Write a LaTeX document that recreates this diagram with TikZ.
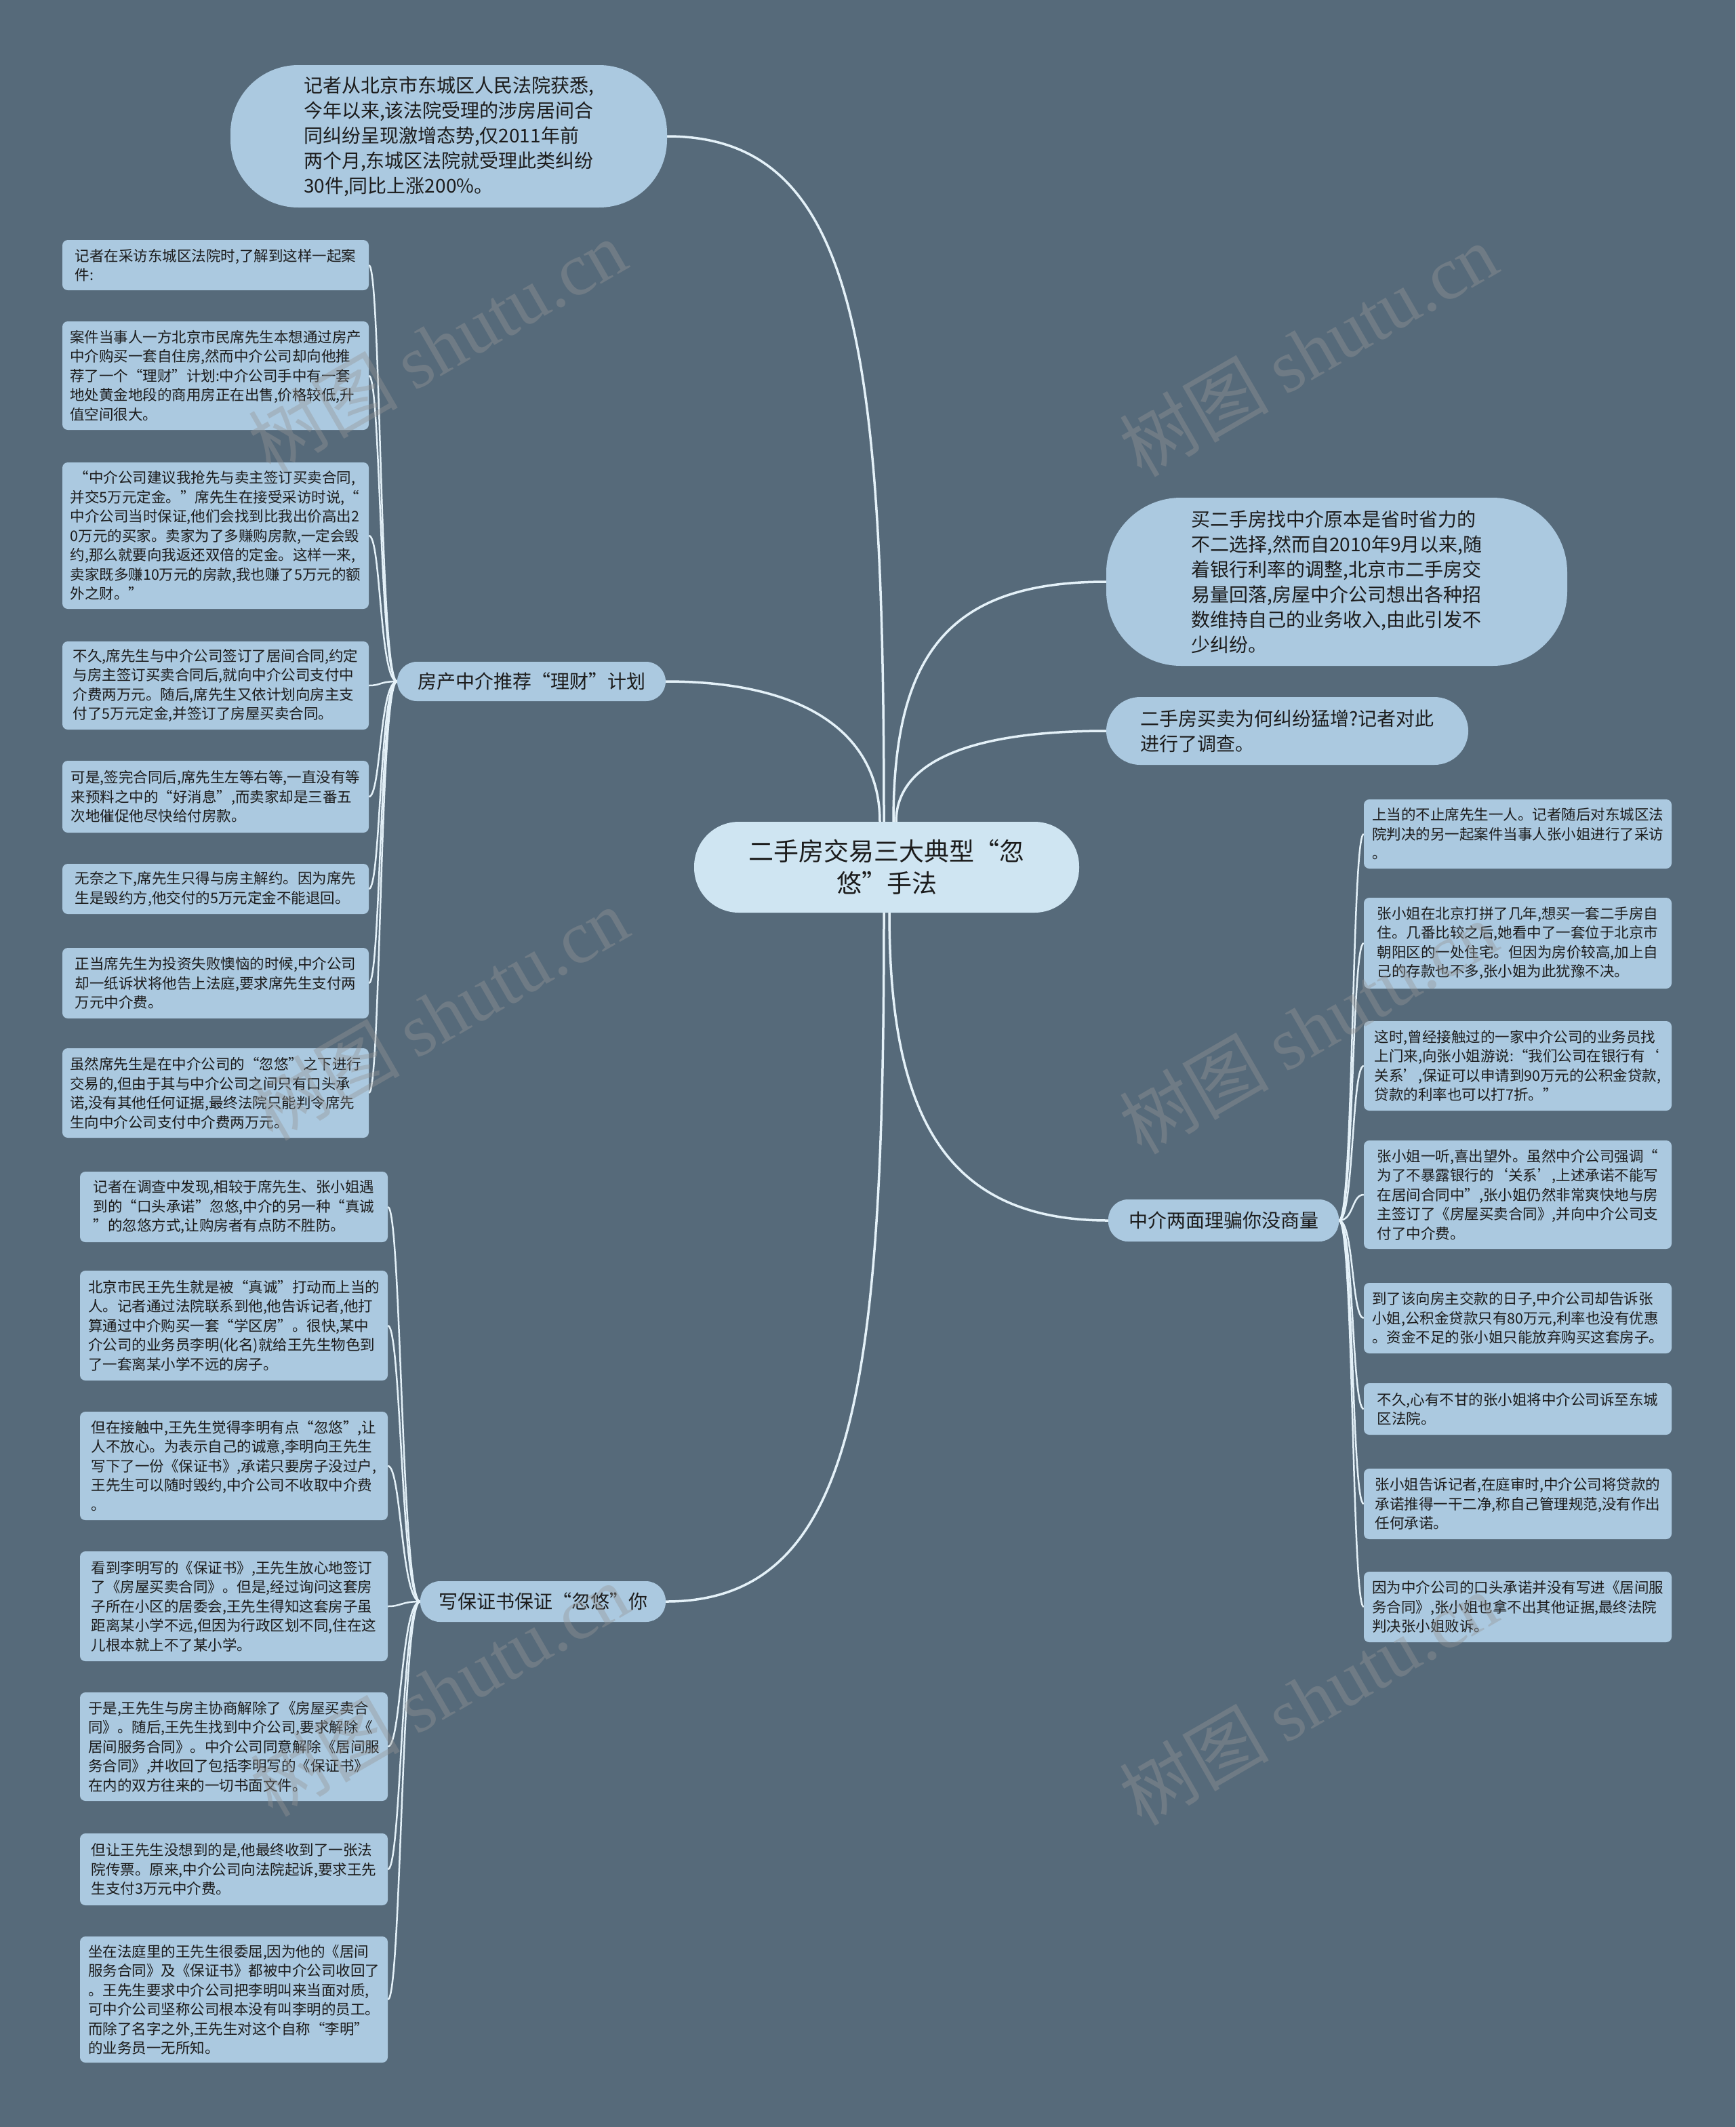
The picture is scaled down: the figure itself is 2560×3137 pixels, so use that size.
\documentclass[tikz,border=0pt]{standalone}
\usepackage{fontspec}
\setmainfont{Noto Sans CJK SC}
\newfontfamily\wmlatin{Liberation Serif}
\usetikzlibrary{calc}
\definecolor{bgc}{RGB}{86,106,122}
\definecolor{leafc}{RGB}{171,201,224}
\definecolor{rootc}{RGB}{207,229,242}
\definecolor{linec}{RGB}{228,241,248}
\definecolor{txtc}{RGB}{28,28,28}
\definecolor{wmc}{RGB}{150,150,150}
\pgfdeclarelayer{bgl}
\pgfdeclarelayer{lnl}
\pgfdeclarelayer{wml}
\pgfsetlayers{bgl,lnl,main,wml}
\begin{document}
\begin{tikzpicture}[x=1pt,y=-1pt,
  leaf/.style={fill=leafc, rounded corners=8pt, align=left, inner sep=0pt, text=txtc,
    font=\fontsize{21.5}{28.5}\selectfont},
  lleaf/.style={leaf, minimum width=452pt},
  mleaf/.style={leaf, minimum width=454pt},
  rleaf/.style={leaf, minimum width=454pt},
  branch/.style={fill=leafc, rounded corners=29pt, inner sep=0pt, text=txtc,
    font=\fontsize{28}{34}\selectfont},
  bubble/.style={fill=leafc, inner sep=0pt, align=left, text=txtc,
    font=\fontsize{28}{37}\selectfont},
  rootnode/.style={fill=rootc, rounded corners=66pt, inner sep=0pt, align=center, text=txtc,
    font=\fontsize{37}{47}\selectfont, minimum width=568pt, minimum height=134pt},
  mainline/.style={draw=linec, line width=3.5pt},
  leafline/.style={draw=linec, line width=2.5pt},
  wm/.style={text=wmc, text opacity=0.4, rotate=30, inner sep=0pt,
    font=\fontsize{110}{110}\selectfont}
]
\begin{pgfonlayer}{bgl}
\fill[bgc] (0,0) rectangle (2560,3137);
\end{pgfonlayer}
\useasboundingbox (0,0) rectangle (2560,3137);

% root
\node[rootnode] (c) at (1308,1279) {二手房交易三大典型“忽\\悠”手法};

% top bubble and right bubbles
\node[bubble, rounded corners=100pt, minimum width=644pt, minimum height=210pt] (t) at (662,201)
{记者从北京市东城区人民法院获悉,\\今年以来,该法院受理的涉房居间合\\同纠纷呈现激增态势,仅2011年前\\两个月,东城区法院就受理此类纠纷\\30件,同比上涨200\%。};
\node[bubble, rounded corners=110pt, minimum width=680pt, minimum height=248pt] (rb1) at (1972,858)
{买二手房找中介原本是省时省力的\\不二选择,然而自2010年9月以来,随\\着银行利率的调整,北京市二手房交\\易量回落,房屋中介公司想出各种招\\数维持自己的业务收入,由此引发不\\少纠纷。};
\node[bubble, rounded corners=50pt, minimum width=534pt, minimum height=100pt] (rb2) at (1899,1078)
{二手房买卖为何纠纷猛增?记者对此\\进行了调查。};

% branches
\node[branch, minimum width=396pt, minimum height=58pt] (b1) at (784,1005) {房产中介推荐“理财”计划};
\node[branch, minimum width=362pt, minimum height=60pt] (b2) at (801,2362) {写保证书保证“忽悠”你};
\node[branch, minimum width=340pt, minimum height=62pt] (b3) at (1805,1800) {中介两面理骗你没商量};

% left leaves, branch 1
\node[lleaf, minimum height=74pt] (l1) at (318,391) {记者在采访东城区法院时,了解到这样一起案\\件:};
\node[lleaf, minimum height=160pt] (l2) at (318,554) {案件当事人一方北京市民席先生本想通过房产\\中介购买一套自住房,然而中介公司却向他推\\荐了一个“理财”计划:中介公司手中有一套\\地处黄金地段的商用房正在出售,价格较低,升\\值空间很大。};
\node[lleaf, minimum height=216pt] (l3) at (318,790) {\kern6pt“中介公司建议我抢先与卖主签订买卖合同,\\并交5万元定金。”席先生在接受采访时说,“\\中介公司当时保证,他们会找到比我出价高出2\\0万元的买家。卖家为了多赚购房款,一定会毁\\约,那么就要向我返还双倍的定金。这样一来,\\卖家既多赚10万元的房款,我也赚了5万元的额\\外之财。”};
\node[lleaf, minimum height=130pt] (l4) at (318,1011) {不久,席先生与中介公司签订了居间合同,约定\\与房主签订买卖合同后,就向中介公司支付中\\介费两万元。随后,席先生又依计划向房主支\\付了5万元定金,并签订了房屋买卖合同。};
\node[lleaf, minimum height=106pt] (l5) at (318,1175) {可是,签完合同后,席先生左等右等,一直没有等\\来预料之中的“好消息”,而卖家却是三番五\\次地催促他尽快给付房款。};
\node[lleaf, minimum height=74pt] (l6) at (318,1311) {无奈之下,席先生只得与房主解约。因为席先\\生是毁约方,他交付的5万元定金不能退回。};
\node[lleaf, minimum height=104pt] (l7) at (318,1450) {正当席先生为投资失败懊恼的时候,中介公司\\却一纸诉状将他告上法庭,要求席先生支付两\\万元中介费。};
\node[lleaf, minimum height=132pt] (l8) at (318,1612) {虽然席先生是在中介公司的“忽悠”之下进行\\交易的,但由于其与中介公司之间只有口头承\\诺,没有其他任何证据,最终法院只能判令席先\\生向中介公司支付中介费两万元。};

% left leaves, branch 2
\node[mleaf, minimum height=104pt] (m1) at (345,1780) {记者在调查中发现,相较于席先生、张小姐遇\\到的“口头承诺”忽悠,中介的另一种“真诚\\”的忽悠方式,让购房者有点防不胜防。};
\node[mleaf, minimum height=162pt] (m2) at (345,1955) {北京市民王先生就是被“真诚”打动而上当的\\人。记者通过法院联系到他,他告诉记者,他打\\算通过中介购买一套“学区房”。很快,某中\\介公司的业务员李明(化名)就给王先生物色到\\了一套离某小学不远的房子。};
\node[mleaf, minimum height=160pt] (m3) at (345,2162) {但在接触中,王先生觉得李明有点“忽悠”,让\\人不放心。为表示自己的诚意,李明向王先生\\写下了一份《保证书》,承诺只要房子没过户,\\王先生可以随时毁约,中介公司不收取中介费\\。};
\node[mleaf, minimum height=162pt] (m4) at (345,2369) {看到李明写的《保证书》,王先生放心地签订\\了《房屋买卖合同》。但是,经过询问这套房\\子所在小区的居委会,王先生得知这套房子虽\\距离某小学不远,但因为行政区划不同,住在这\\儿根本就上不了某小学。};
\node[mleaf, minimum height=160pt] (m5) at (345,2576) {于是,王先生与房主协商解除了《房屋买卖合\\同》。随后,王先生找到中介公司,要求解除《\\居间服务合同》。中介公司同意解除《居间服\\务合同》,并收回了包括李明写的《保证书》\\在内的双方往来的一切书面文件。};
\node[mleaf, minimum height=106pt] (m6) at (345,2757) {但让王先生没想到的是,他最终收到了一张法\\院传票。原来,中介公司向法院起诉,要求王先\\生支付3万元中介费。};
\node[mleaf, minimum height=186pt] (m7) at (345,2949) {坐在法庭里的王先生很委屈,因为他的《居间\\服务合同》及《保证书》都被中介公司收回了\\。王先生要求中介公司把李明叫来当面对质,\\可中介公司坚称公司根本没有叫李明的员工。\\而除了名字之外,王先生对这个自称“李明”\\的业务员一无所知。};

% right leaves
\node[rleaf, minimum height=102pt] (r1) at (2239,1230) {上当的不止席先生一人。记者随后对东城区法\\院判决的另一起案件当事人张小姐进行了采访\\。};
\node[rleaf, minimum height=134pt] (r2) at (2239,1391) {张小姐在北京打拼了几年,想买一套二手房自\\住。几番比较之后,她看中了一套位于北京市\\朝阳区的一处住宅。但因为房价较高,加上自\\己的存款也不多,张小姐为此犹豫不决。};
\node[rleaf, minimum height=132pt] (r3) at (2239,1572) {这时,曾经接触过的一家中介公司的业务员找\\上门来,向张小姐游说:“我们公司在银行有‘\\关系’,保证可以申请到90万元的公积金贷款,\\贷款的利率也可以打7折。”};
\node[rleaf, minimum height=160pt] (r4) at (2239,1762) {张小姐一听,喜出望外。虽然中介公司强调“\\为了不暴露银行的‘关系’,上述承诺不能写\\在居间合同中”,张小姐仍然非常爽快地与房\\主签订了《房屋买卖合同》,并向中介公司支\\付了中介费。};
\node[rleaf, minimum height=104pt] (r5) at (2239,1944) {到了该向房主交款的日子,中介公司却告诉张\\小姐,公积金贷款只有80万元,利率也没有优惠\\。资金不足的张小姐只能放弃购买这套房子。};
\node[rleaf, minimum height=76pt] (r6) at (2239,2078) {不久,心有不甘的张小姐将中介公司诉至东城\\区法院。};
\node[rleaf, minimum height=104pt] (r7) at (2239,2218) {张小姐告诉记者,在庭审时,中介公司将贷款的\\承诺推得一干二净,称自己管理规范,没有作出\\任何承诺。};
\node[rleaf, minimum height=104pt] (r8) at (2239,2370) {因为中介公司的口头承诺并没有写进《居间服\\务合同》,张小姐也拿不出其他证据,最终法院\\判决张小姐败诉。};

% connectors
\begin{pgfonlayer}{lnl}
\draw[mainline] ($(c.north)+(-4,0)$) .. controls +(0,-700) and +(280,0) .. (t.east);
\draw[mainline] ($(c.north)+(-10,0)$) .. controls +(0,-120) and +(220,0) .. (b1.east);
\draw[mainline] ($(c.north)+(10,0)$) .. controls +(0,-250) and +(-230,0) .. (rb1.west);
\draw[mainline] ($(c.north)+(14,0)$) .. controls +(0,-80) and +(-220,0) .. (rb2.west);
\draw[mainline] ($(c.south)+(-4,0)$) .. controls +(0,700) and +(280,0) .. (b2.east);
\draw[mainline] ($(c.south)+(4,0)$) .. controls +(0,300) and +(-240,0) .. (b3.west);
\foreach \n in {l1,l2,l3,l4,l5,l6,l7,l8}
  \draw[leafline] (b1.west) .. controls +(-26,0) and +(18,0) .. (\n.east);
\foreach \n in {m1,m2,m3,m4,m5,m6,m7}
  \draw[leafline] (b2.west) .. controls +(-28,0) and +(20,0) .. (\n.east);
\foreach \n in {r1,r2,r3,r4,r5,r6,r7,r8}
  \draw[leafline] (b3.east) .. controls +(22,0) and +(-18,0) .. (\n.west);
\end{pgfonlayer}

% watermarks
\begin{pgfonlayer}{wml}
\node[wm] (w1) at (645,510) {树图 {\wmlatin shutu.cn}};
\node[wm] (w2) at (1930,516) {树图 {\wmlatin shutu.cn}};
\node[wm] (w3) at (648,1495) {树图 {\wmlatin shutu.cn}};
\node[wm] (w4) at (1930,1515) {树图 {\wmlatin shutu.cn}};
\node[wm] (w5) at (648,2492) {树图 {\wmlatin shutu.cn}};
\node[wm] (w6) at (1930,2505) {树图 {\wmlatin shutu.cn}};
\end{pgfonlayer}
\end{tikzpicture}
\end{document}
